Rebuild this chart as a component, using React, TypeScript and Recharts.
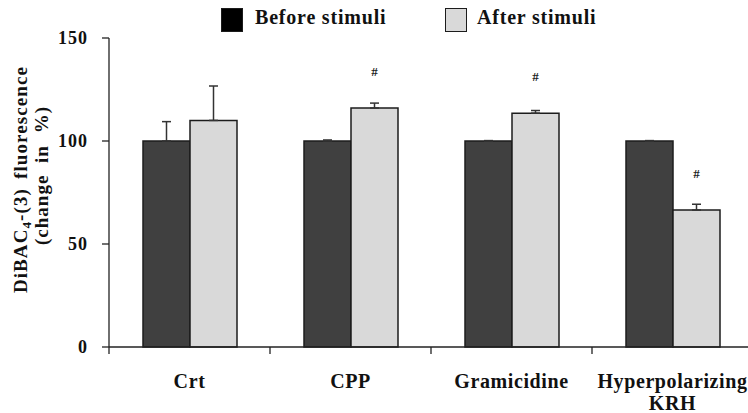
import React from 'react';
import { BarChart, Bar, XAxis, YAxis, ErrorBar, LabelList } from 'recharts';

// Groups and measurements (% change of DiBAC4-(3) fluorescence)
const categories = ['Crt', 'CPP', 'Gramicidine', 'Hyperpolarizing KRH'];
const beforeValues = [100, 100, 100, 100];
const beforeErrors = [9.4, 0.5, 0.2, 0.2];
const afterValues = [110, 116, 113.5, 66.5];
const afterErrors = [16.7, 2.4, 1.3, 2.8];
const significance = ['', '#', '#', '#'];
const yTicks = [0, 50, 100, 150];

const seriesNames = ['Before stimuli', 'After stimuli'];
const DARK = '#404040';
const LIGHT = '#d9d9d9';
const EDGE = '#1c1c1c';
const FONT = '"Liberation Serif", "Times New Roman", serif';

const CHART_W = 760;
const CHART_H = 413;
const MARGIN = { top: 38, right: 7, bottom: 0, left: 49 };
const Y_AXIS_W = 60;
const X_AXIS_H = 66;

const data = categories.map((name, i) => ({
  name,
  before: beforeValues[i],
  beforeErr: [0, beforeErrors[i]],
  after: afterValues[i],
  afterErr: [0, afterErrors[i]],
  mark: significance[i],
}));

const bandSize =
  (CHART_W - MARGIN.left - MARGIN.right - Y_AXIS_W) / categories.length;

// Category names sit in the middle of each band; tick marks sit on band edges.
const CategoryTick = (props: any) => {
  const { x, y, payload } = props;
  const words = String(payload.value).split(' ');
  const lines =
    words.length > 1 ? [words.slice(0, -1).join(' '), words[words.length - 1]] : words;
  const left = x - bandSize / 2;
  return (
    <g>
      <line x1={left} y1={y} x2={left} y2={y + 7} stroke="#222" strokeWidth={1.3} />
      <text
        x={x}
        y={y + 41}
        textAnchor="middle"
        fontFamily={FONT}
        fontWeight="bold"
        fontSize={20}
        letterSpacing={0.6}
        fill="#111"
      >
        {lines.map((l, i) => (
          <tspan key={i} x={x} dy={i === 0 ? 0 : 22}>
            {l}
          </tspan>
        ))}
      </text>
    </g>
  );
};

const ValueTick = (props: any) => {
  const { x, y, payload } = props;
  return (
    <text
      x={x}
      y={y}
      dy="0.35em"
      textAnchor="end"
      fontFamily={FONT}
      fontWeight="bold"
      fontSize={18}
      letterSpacing={1}
      fill="#111"
    >
      {payload.value}
    </text>
  );
};

const AxisTitle = (props: any) => {
  const vb = props.viewBox || { x: 49, y: 38, width: 60, height: 309 };
  const cy = vb.y + vb.height / 2;
  const x1 = vb.x - 22;
  const x2 = vb.x - 1;
  const y1 = cy - 13;
  const y2 = cy - 17;
  const common = {
    fontFamily: FONT,
    fontWeight: 'bold' as const,
    fontSize: 19,
    fill: '#111',
    textAnchor: 'middle' as const,
  };
  return (
    <g>
      <text {...common} x={x1} y={y1} transform={`rotate(-90, ${x1}, ${y1})`} letterSpacing={1.1}>
        DiBAC<tspan fontSize={13} dy={4}>4</tspan>
        <tspan dy={-4}>-(3)</tspan>
        <tspan dx={9}>fluorescence</tspan>
      </text>
      <text {...common} x={x2} y={y2} transform={`rotate(-90, ${x2}, ${y2})`} letterSpacing={1} wordSpacing={6}>
        (change in %)
      </text>
    </g>
  );
};

const MarkLabel = (props: any) => {
  const { x, y, width, value } = props;
  if (!value) return null;
  return (
    <text
      x={x + width / 2}
      y={y - 32}
      textAnchor="middle"
      fontFamily={FONT}
      fontSize={13}
      fontWeight="bold"
      fill="#222"
    >
      {value}
    </text>
  );
};

const LegendSwatch = ({ color, label, left, textLeft }: any) => (
  <>
    <div
      style={{
        position: 'absolute',
        left,
        top: 8,
        width: 20,
        height: 22,
        background: color,
        border: `1px solid ${EDGE}`,
      }}
    />
    <div
      style={{
        position: 'absolute',
        left: textLeft,
        top: 5,
        fontFamily: FONT,
        fontWeight: 'bold',
        fontSize: 20,
        letterSpacing: 0.8,
        lineHeight: '24px',
        color: '#111',
        whiteSpace: 'nowrap',
      }}
    >
      {label}
    </div>
  </>
);

export default function App() {
  return (
    <div
      style={{
        position: 'fixed',
        left: 0,
        top: 0,
        width: 748,
        height: 413,
        overflow: 'hidden',
        background: '#fff',
      }}
    >
      <BarChart
        width={CHART_W}
        height={CHART_H}
        data={data}
        margin={MARGIN}
        barCategoryGap={34}
        barGap={0}
      >
        <XAxis
          dataKey="name"
          height={X_AXIS_H}
          interval={0}
          tickSize={0}
          tickMargin={0}
          axisLine={{ stroke: '#222', strokeWidth: 1.3 }}
          tickLine={false}
          tick={<CategoryTick />}
        />
        <YAxis
          width={Y_AXIS_W}
          domain={[0, 150]}
          ticks={yTicks}
          interval={0}
          tickSize={7}
          tickMargin={14}
          axisLine={{ stroke: '#222', strokeWidth: 1.3 }}
          tickLine={{ stroke: '#222', strokeWidth: 1.3 }}
          tick={<ValueTick />}
          label={<AxisTitle />}
        />
        <Bar
          dataKey="before"
          name={seriesNames[0]}
          fill={DARK}
          stroke={EDGE}
          strokeWidth={1.5}
          isAnimationActive={false}
        >
          <ErrorBar dataKey="beforeErr" direction="y" width={4.5} stroke="#333" strokeWidth={1.5} />
        </Bar>
        <Bar
          dataKey="after"
          name={seriesNames[1]}
          fill={LIGHT}
          stroke={EDGE}
          strokeWidth={1.5}
          isAnimationActive={false}
        >
          <ErrorBar dataKey="afterErr" direction="y" width={4.5} stroke="#333" strokeWidth={1.5} />
          <LabelList dataKey="mark" content={<MarkLabel />} />
        </Bar>
      </BarChart>
      <LegendSwatch color="#000" label={seriesNames[0]} left={221} textLeft={255} />
      <LegendSwatch color={LIGHT} label={seriesNames[1]} left={445} textLeft={477} />
    </div>
  );
}
